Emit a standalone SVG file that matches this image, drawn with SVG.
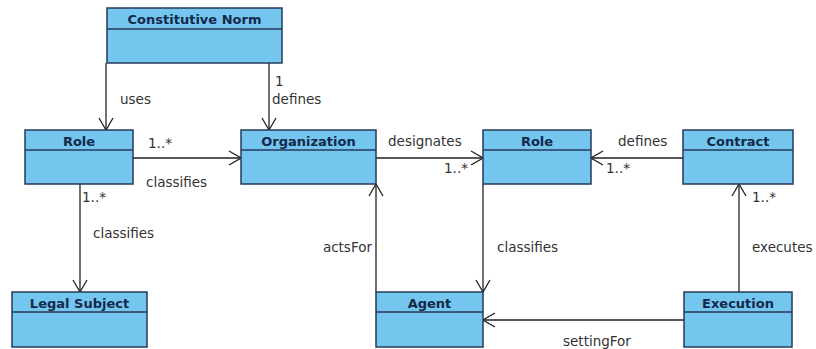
<svg xmlns="http://www.w3.org/2000/svg" width="816" height="349" viewBox="0 0 816 349">
<style>
.box{fill:#74C6EE;stroke:#243A5A;stroke-width:1.5}
.div{stroke:#243A5A;stroke-width:1.3}
.title{font-family:"DejaVu Sans",sans-serif;font-weight:bold;font-size:13px;fill:#13294B;text-anchor:middle}
.lbl{font-family:"DejaVu Sans",sans-serif;font-size:13.5px;fill:#333}
.ln{fill:none;stroke:#222;stroke-width:1.3}
</style>
<defs>
<marker id="open" viewBox="0 0 14 16" refX="13" refY="8" markerWidth="14" markerHeight="16" markerUnits="userSpaceOnUse" orient="auto">
<path d="M1,1 L13,8 L1,15" fill="none" stroke="#222" stroke-width="1.3"/>
</marker>
</defs>
<rect width="816" height="349" fill="#fff"/>
<g id="connectors">
<line class="ln" x1="106" y1="63" x2="106" y2="130" marker-end="url(#open)"/>
<line class="ln" x1="269" y1="63" x2="269" y2="130" marker-end="url(#open)"/>
<line class="ln" x1="133" y1="158" x2="241" y2="158" marker-end="url(#open)"/>
<line class="ln" x1="376" y1="158" x2="483" y2="158" marker-end="url(#open)"/>
<line class="ln" x1="683" y1="158" x2="591" y2="158" marker-end="url(#open)"/>
<line class="ln" x1="80" y1="184" x2="80" y2="292" marker-end="url(#open)"/>
<line class="ln" x1="376" y1="292" x2="376" y2="184" marker-end="url(#open)"/>
<line class="ln" x1="483" y1="184" x2="483" y2="292" marker-end="url(#open)"/>
<line class="ln" x1="739" y1="292" x2="739" y2="184" marker-end="url(#open)"/>
<line class="ln" x1="684" y1="320" x2="483" y2="320" marker-end="url(#open)"/>
<text class="lbl" x="120" y="104">uses</text>
<text class="lbl" x="275" y="86">1</text>
<text class="lbl" x="272" y="104">defines</text>
<text class="lbl" x="148" y="148">1..*</text>
<text class="lbl" x="146" y="187">classifies</text>
<text class="lbl" x="388" y="146">designates</text>
<text class="lbl" x="444" y="173">1..*</text>
<text class="lbl" x="618" y="146">defines</text>
<text class="lbl" x="606" y="173">1..*</text>
<text class="lbl" x="82" y="202">1..*</text>
<text class="lbl" x="93" y="238">classifies</text>
<text class="lbl" x="372" y="252" text-anchor="end">actsFor</text>
<text class="lbl" x="497" y="252">classifies</text>
<text class="lbl" x="752" y="202">1..*</text>
<text class="lbl" x="752" y="252">executes</text>
<text class="lbl" x="563" y="346">settingFor</text>
</g>
<g id="constitutive-norm">
<rect class="box" x="107" y="8" width="175" height="55"/>
<line class="div" x1="107" y1="29" x2="282" y2="29"/>
<text class="title" x="194.5" y="24">Constitutive Norm</text>
</g>
<g id="role-left">
<rect class="box" x="25" y="130" width="108" height="54"/>
<line class="div" x1="25" y1="150" x2="133" y2="150"/>
<text class="title" x="79" y="146">Role</text>
</g>
<g id="organization">
<rect class="box" x="241" y="130" width="135" height="54"/>
<line class="div" x1="241" y1="150" x2="376" y2="150"/>
<text class="title" x="308.5" y="146">Organization</text>
</g>
<g id="role-right">
<rect class="box" x="483" y="130" width="108" height="54"/>
<line class="div" x1="483" y1="150" x2="591" y2="150"/>
<text class="title" x="537" y="146">Role</text>
</g>
<g id="contract">
<rect class="box" x="683" y="130" width="110" height="54"/>
<line class="div" x1="683" y1="150" x2="793" y2="150"/>
<text class="title" x="738" y="146">Contract</text>
</g>
<g id="legal-subject">
<rect class="box" x="12" y="292" width="135" height="55"/>
<line class="div" x1="12" y1="312" x2="147" y2="312"/>
<text class="title" x="79.5" y="308">Legal Subject</text>
</g>
<g id="agent">
<rect class="box" x="376" y="292" width="107" height="55"/>
<line class="div" x1="376" y1="312" x2="483" y2="312"/>
<text class="title" x="429.5" y="308">Agent</text>
</g>
<g id="execution">
<rect class="box" x="684" y="292" width="108" height="55"/>
<line class="div" x1="684" y1="312" x2="792" y2="312"/>
<text class="title" x="738" y="308">Execution</text>
</g>
</svg>
